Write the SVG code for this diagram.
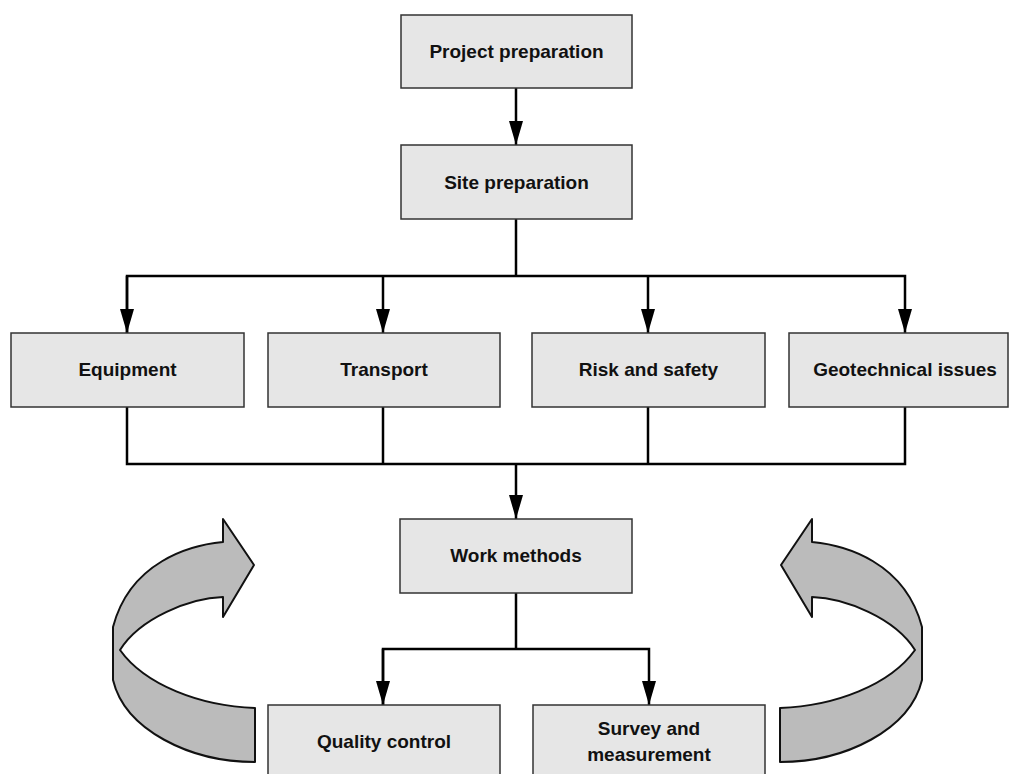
<svg xmlns="http://www.w3.org/2000/svg" width="1009" height="774" viewBox="0 0 1009 774">
<style>
.box{fill:#e6e6e6;stroke:#333;stroke-width:1.5}
.lbl{font-family:"Liberation Sans",Arial,sans-serif;font-weight:bold;font-size:19px;fill:#111;text-anchor:middle}
.con{fill:none;stroke:#000;stroke-width:2.5}
.curl{fill:#bbbbbb;stroke:#111;stroke-width:2;stroke-linejoin:round}
</style>
<defs>
<marker id="ah" markerUnits="userSpaceOnUse" markerWidth="24" markerHeight="14" refX="24" refY="7" orient="auto">
<path d="M0,0 L24,7 L0,14 z" fill="#000"/>
</marker>
<path id="curlShape" d="M254,565 L223,617 L223,597 C190,598 140,618 120,650 C145,685 200,706 255,708 L255,762 C190,762 125,730 113,680 L113,627 C130,562 190,545 223,542 L223,519 Z"/>
</defs>
<rect width="1009" height="774" fill="#fff"/>
<g id="connectors">
<line class="con" x1="516" y1="88" x2="516" y2="145" marker-end="url(#ah)"/>
<polyline class="con" points="516,219 516,276"/>
<polyline class="con" points="127,333 127,276 905,276 905,333" marker-end="url(#ah)"/>
<line class="con" x1="127" y1="276" x2="127" y2="333" marker-end="url(#ah)"/>
<line class="con" x1="383" y1="276" x2="383" y2="333" marker-end="url(#ah)"/>
<line class="con" x1="648" y1="276" x2="648" y2="333" marker-end="url(#ah)"/>
<polyline class="con" points="127,407 127,464 905,464 905,407"/>
<line class="con" x1="383" y1="407" x2="383" y2="464"/>
<line class="con" x1="648" y1="407" x2="648" y2="464"/>
<line class="con" x1="516" y1="464" x2="516" y2="519" marker-end="url(#ah)"/>
<polyline class="con" points="516,593 516,649"/>
<polyline class="con" points="383,705 383,649 649,649 649,705" marker-end="url(#ah)"/>
<line class="con" x1="383" y1="649" x2="383" y2="705" marker-end="url(#ah)"/>
</g>
<g id="curl-left"><use href="#curlShape" class="curl"/></g>
<g id="curl-right"><use href="#curlShape" class="curl" transform="translate(1035,0) scale(-1,1)"/></g>
<g id="project-preparation"><rect class="box" x="401" y="15" width="231" height="73"/><text class="lbl" x="516.5" y="58">Project preparation</text></g>
<g id="site-preparation"><rect class="box" x="401" y="145" width="231" height="74"/><text class="lbl" x="516.5" y="189">Site preparation</text></g>
<g id="equipment"><rect class="box" x="11" y="333" width="233" height="74"/><text class="lbl" x="127.5" y="376">Equipment</text></g>
<g id="transport"><rect class="box" x="268" y="333" width="232" height="74"/><text class="lbl" x="384" y="376">Transport</text></g>
<g id="risk-safety"><rect class="box" x="532" y="333" width="233" height="74"/><text class="lbl" x="648.5" y="376">Risk and safety</text></g>
<g id="geotechnical"><rect class="box" x="789" y="333" width="219" height="74"/><text class="lbl" x="905" y="376">Geotechnical issues</text></g>
<g id="work-methods"><rect class="box" x="400" y="519" width="232" height="74"/><text class="lbl" x="516" y="562">Work methods</text></g>
<g id="quality-control"><rect class="box" x="268" y="705" width="232" height="80"/><text class="lbl" x="384" y="748">Quality control</text></g>
<g id="survey-measurement"><rect class="box" x="533" y="705" width="232" height="80"/><text class="lbl" x="649" y="735">Survey and</text><text class="lbl" x="649" y="761">measurement</text></g>
</svg>
